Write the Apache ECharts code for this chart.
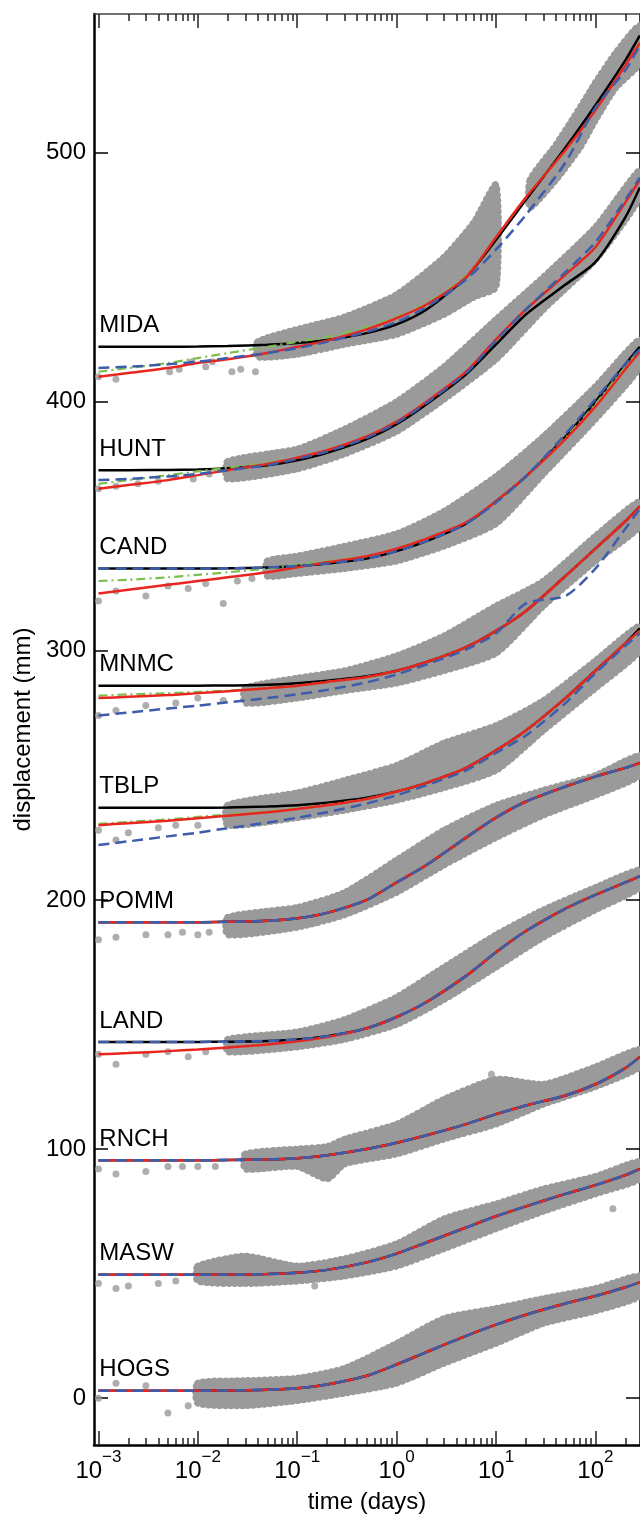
<!DOCTYPE html>
<html><head><meta charset="utf-8">
<script src="https://cdn.jsdelivr.net/npm/echarts@6/dist/echarts.min.js"></script>
<style>html,body{margin:0;padding:0;background:#fff}#c{width:640px;height:1519px}</style>
</head><body><div id="c"></div><script>
// ---------- data ----------
const stations = ['MIDA','HUNT','CAND','MNMC','TBLP','POMM','LAND','RNCH','MASW','HOGS'];
const T = [0.001,0.002,0.005,0.01,0.02,0.05,0.1,0.2,0.5,1,2,5,10,20,50,100,200,280];
const majorTicks = [0.001, 0.01, 0.1, 1, 10, 100];
const minorTicks = [0.002,0.003,0.004,0.005,0.006,0.007,0.008,0.009,0.02,0.03,0.04,0.05,0.06,0.07,0.08,0.09,0.2,0.3,0.4,0.5,0.6,0.7,0.8,0.9,2,3,4,5,6,7,8,9,20,30,40,50,60,70,80,90,200];
const yTicks = [0, 100, 200, 300, 400, 500];

const POMMfit = [191,191,191,191,191.2,191.6,192.6,194.8,200,207,214,225,233,239.5,245.5,249.5,253,255];
const LANDfit = [143,143,143,143,143.1,143.4,144,145.3,148.5,153,159,169.5,179,187.5,196.5,202,207,209.5];
const RNCHfit = [95.5,95.5,95.5,95.5,95.6,95.8,96.3,97.5,100,102.5,105.5,110,114,117.5,121.5,126,132.5,137];
const MASWfit = [49.5,49.5,49.5,49.5,49.6,49.8,50.3,51.5,54.5,58,62.5,68.5,73,77,82,85.5,89.5,92];
const HOGSfit = [3,3,3,3,3.1,3.4,4,5.5,9,13.5,18.5,25,29.5,33.5,38,41,44.5,46.5];

const blackFits = [
  [422,422,422,422.1,422.3,422.8,423.5,424.7,427.5,431,437,450,465,481,502,519,537,547],
  [372.5,372.5,372.6,372.8,373.3,374.5,376.5,379.5,385,391,399,411,423,435,447,456,474,486],
  [333,333,333,333,333.1,333.4,334,335,337,340,344,351,360,370,386,400,415,422],
  [286,286,286,286,286.1,286.4,287,288,289.8,292,295.5,301.5,308,316,330,341,352,358],
  [237,237,237,237,237.1,237.5,238,239,241,243.5,247,253,260,268,281,292,303,309],
  POMMfit, LANDfit, RNCHfit, MASWfit, HOGSfit
];
const redFits = [
  [410,411.5,413.5,415.5,417,419.5,422,424.5,429,433.5,439,450,466,482,501,517,535,544],
  [365,366.5,368.5,370.5,372.5,375,377.5,380.5,386,392,400,412,425,437,451,462,480,489],
  [323,324.5,326.5,328,329.5,331.5,333.5,335.5,338,341,345,351.5,360,370,385,398,413,420],
  [281,281.5,282.2,283,283.8,285,286,287.5,289.5,292,295.5,301.5,308,316,330,341,352,358],
  [230,230.8,231.8,232.8,233.8,235.2,236.5,238,240.5,243.5,247,253,260,268,281,292,303,308],
  POMMfit,
  [138,138.5,139.3,140,140.8,142,143.3,145,148.5,153,159,169.5,179,187.5,196.5,202,207,209.5],
  RNCHfit, MASWfit, HOGSfit
];
const blueFits = [
  [413.5,414,415,416,417.5,419.5,421.5,424,428,432,438,449,461,475,496,518,533,543],
  [368.5,369,370,371,372.5,374.5,377,380,385.5,391.5,399.5,411.5,424.5,437,452,464,481,490],
  [333,333,333,333,333.1,333.4,334,335,337,340,344,351,359.5,370,387,401,415,421],
  [274,275.2,276.8,278,279.3,281,282.5,284.3,287.3,290.5,294.5,300.5,307,319,322,333,349,357],
  [222,223.5,225.5,227,228.8,231,233,235.2,238.7,242,246,252,259,266,279,291,302,307],
  POMMfit, LANDfit, RNCHfit, MASWfit, HOGSfit
];
const greenFits = [
  [412,413.5,415.5,417.5,419.5,422,424,426,430,434,439.5,450.5,466,482,501,517,535,544],
  [367,368.5,370.5,372,373.5,375.5,377.5,380.5,386,392,400,412,425,437,451,462,480,489],
  [328,328.5,329.5,330.5,331.5,333,334.5,336,338,341,345,351.5,360,370,385.5,399,414,421],
  [282,282.5,283,283.5,284,285,286,287.5,289.5,292,295.5,301.5,308,316,330,341,352,357],
  [230.5,231.3,232.3,233.3,234.3,235.6,236.8,238.2,240.6,243.5,247,253,260,268,281,292,303,308],
  null, null, null, null, null
];
// observed scatter clouds: [time, lower, upper] per segment
const cloudMIDA = [[[0.04,418,424],[0.1,419,429],[0.3,423,434],[1,427,443],[3,435,458],[6,442,472],[10,446,487]],
                   [[22,478,489],[40,489,503],[70,502,518],[100,513,528],[160,526,540],[280,536,551]]];
const cloudHUNT = [[[0.02,369,376],[0.1,373,381],[0.3,379,389],[1,388,400],[3,401,414],[10,417,433],[30,437,450],[100,457,470],[280,482,493]]];
const cloudCAND = [[[0.05,330,336],[0.1,331,338],[0.3,333,342],[1,336,347],[3,342,356],[10,351,370],[30,371,386],[100,393,406],[280,414,425]]];
const cloudMNMC = [[[0.03,279,285],[0.1,281,289],[0.3,284,292],[1,287,298],[3,292,306],[10,299,318],[30,318,328],[100,336,346],[280,350,360]]];
const cloudTBLP = [[[0.02,230,238],[0.1,233,243],[0.3,236,248],[1,240,254],[3,245,263],[10,252,270],[30,268,280],[100,285,296],[280,300,310]]];
const cloudPOMM = [[[0.02,186,193],[0.1,189,197],[0.3,194,203],[1,203,216],[3,214,228],[10,225,238],[30,234,244],[100,242,250],[280,250,258]]];
const cloudLAND = [[[0.02,139,144],[0.1,141,147],[0.3,144,152],[1,150,161],[3,160,173],[10,173,186],[30,185,196],[100,196,205],[280,205,212]]];
const cloudRNCH = [[[0.03,92,98],[0.1,93,100],[0.2,88,101],[0.3,94,104],[1,98,110],[3,104,120],[10,110,128],[30,118,126],[100,125,133],[280,133,140]]];
const cloudMASW = [[[0.01,47,53],[0.03,46,57],[0.1,47,53],[0.3,49,56],[1,53,62],[3,60,72],[10,68,78],[30,75,84],[100,82,89],[280,88,95]]];
const cloudHOGS = [[[0.01,-2,6],[0.03,-3,7],[0.1,-1,8],[0.3,2,12],[1,6,22],[3,14,32],[10,22,36],[30,30,40],[100,35,44],[280,41,49]]];
const clouds = [cloudMIDA, cloudHUNT, cloudCAND, cloudMNMC, cloudTBLP, cloudPOMM, cloudLAND, cloudRNCH, cloudMASW, cloudHOGS];
// sparse individual observations
const dotsMIDA = [[0.001,410],[0.0015,409],[0.0052,412],[0.0065,413],[0.0087,416],[0.012,414],[0.014,416],[0.022,412],[0.027,413],[0.038,412],[10,486],[100,525]];
const dotsHUNT = [[0.001,365],[0.0015,366],[0.0025,367],[0.004,368],[0.006,370],[0.009,369],[0.013,371]];
const dotsCAND = [[0.001,320],[0.0015,324],[0.003,322],[0.005,326],[0.008,325],[0.012,327],[0.018,319],[0.025,328],[0.035,329]];
const dotsMNMC = [[0.001,274],[0.0015,276],[0.003,278],[0.006,279],[0.01,281],[0.018,280]];
const dotsTBLP = [[0.001,228],[0.0015,224],[0.002,227],[0.004,229],[0.006,230],[0.01,230]];
const dotsPOMM = [[0.001,184],[0.0015,185],[0.003,186],[0.005,186],[0.007,187],[0.01,186],[0.013,187]];
const dotsLAND = [[0.001,138],[0.0015,134],[0.003,138],[0.005,139],[0.008,137],[0.012,139]];
const dotsRNCH = [[0.001,92],[0.0015,90],[0.003,91],[0.005,93],[0.007,93],[0.01,93],[0.015,93],[9,130]];
const dotsMASW = [[0.001,46],[0.0015,44],[0.002,45],[0.004,46],[0.006,47],[0.15,45],[150,76]];
const dotsHOGS = [[0.001,0],[0.0015,6],[0.003,5],[0.005,-6],[0.008,-3],[0.01,2]];
const dots = [dotsMIDA, dotsHUNT, dotsCAND, dotsMNMC, dotsTBLP, dotsPOMM, dotsLAND, dotsRNCH, dotsMASW, dotsHOGS];

// ---------- chart ----------
const FONT = 'Liberation Sans, Arial, Helvetica, sans-serif';
const XMIN = 0.000902, XMAX = 281, YMIN = -18.8, YMAX = 555.6;
const GRAY = '#9a9a9a', RED = '#e8261f', BLUE = '#3d5dab', GREEN = '#7dbf4e';

function xAxisDef(pos, ticks, len, showLine, showLabel) {
  return {
    type: 'log', logBase: 10, min: XMIN, max: XMAX, position: pos,
    axisLine: { show: showLine, onZero: false, lineStyle: { color: pos === 'top' ? '#444' : '#000', width: pos === 'top' ? 1.5 : 2.5 } },
    axisTick: { show: true, inside: true, length: len, customValues: ticks, lineStyle: { color: '#222', width: 1.5 } },
    axisLabel: showLabel ? {
      show: true, customValues: ticks, margin: 4, color: '#000', fontFamily: FONT,
      formatter: v => { const e = Math.round(Math.log10(v)); return '{b|10}{s|' + (e < 0 ? '\u2212' : '') + Math.abs(e) + '}'; },
      rich: { b: { fontSize: 24, lineHeight: 44, fontFamily: FONT, color: '#000' },
              s: { fontSize: 17, lineHeight: 17, verticalAlign: 'top', fontFamily: FONT, color: '#000' } }
    } : { show: false },
    splitLine: { show: false }, minorTick: { show: false },
    name: showLabel ? 'time (days)' : '', nameLocation: 'middle', nameGap: 57,
    nameTextStyle: { fontSize: 24, fontFamily: FONT, color: '#000', verticalAlign: 'middle' }
  };
}

const series = [];
stations.forEach((name, i) => {
  const segs = clouds[i];
  series.push({
    type: 'custom', xAxisIndex: 0, yAxisIndex: 0, silent: true, z: 1,
    data: [[T[0], 0]],
    renderItem: (params, api) => ({
      type: 'group',
      children: segs.map(seg => {
        const up = seg.map(p => api.coord([p[0], p[2]]));
        const lo = seg.slice().reverse().map(p => api.coord([p[0], p[1]]));
        return { type: 'polygon', shape: { points: up.concat(lo), smooth: 0.2 },
                 style: { fill: GRAY, stroke: GRAY, lineWidth: 7, lineCap: 'round', lineJoin: 'round', lineDash: [0.1, 5.5] } };
      })
    })
  });
  series.push({ type: 'scatter', xAxisIndex: 0, yAxisIndex: 0, z: 2, symbolSize: 7, silent: true,
    itemStyle: { color: GRAY }, data: dots[i] });
  const mk = (arr, color, type, z, w) => ({
    type: 'line', xAxisIndex: 0, yAxisIndex: 0, z, symbol: 'none', smooth: 0.25, silent: true,
    lineStyle: { color, width: w, type }, data: T.map((t, j) => [t, arr[j]])
  });
  series.push(mk(blackFits[i], '#000', 'solid', 3, 2.5));
  if (greenFits[i]) series.push(mk(greenFits[i], GREEN, [9, 4, 2, 4], 4, 2.2));
  series.push(mk(redFits[i], RED, 'solid', 5, 2.5));
  series.push(mk(blueFits[i], BLUE, [11, 6], 6, 2.5));
  series.push({
    type: 'custom', xAxisIndex: 0, yAxisIndex: 0, silent: true, z: 10,
    data: [[0.00102, blackFits[i][0]]],
    renderItem: (params, api) => {
      const p = api.coord([api.value(0), api.value(1)]);
      return { type: 'text', x: p[0], y: p[1] - 9,
               style: { text: name, fontSize: 24, fontFamily: FONT, fill: '#000', align: 'left', verticalAlign: 'bottom' } };
    }
  });
});

const chart = echarts.init(document.getElementById('c'), null, { renderer: 'canvas' });
chart.setOption({
  animation: false,
  backgroundColor: '#fff',
  grid: { left: 94, top: 14, right: -1, bottom: 69, containLabel: false },
  xAxis: [
    xAxisDef('bottom', majorTicks, 14, true, true),
    xAxisDef('bottom', minorTicks, 7, false, false),
    xAxisDef('top', majorTicks, 14, true, false),
    xAxisDef('top', minorTicks, 7, false, false)
  ],
  yAxis: [
    { type: 'value', min: YMIN, max: YMAX, position: 'left',
      axisLine: { show: true, onZero: false, lineStyle: { color: '#000', width: 2.5 } },
      axisTick: { show: true, inside: true, length: 14, customValues: yTicks, lineStyle: { color: '#000', width: 1.5 } },
      axisLabel: { show: true, customValues: yTicks, margin: 8, fontSize: 24, fontFamily: FONT, color: '#000' },
      splitLine: { show: false },
      name: 'displacement (mm)', nameLocation: 'middle', nameGap: 71, nameRotate: 90,
      nameTextStyle: { fontSize: 24, fontFamily: FONT, color: '#000', verticalAlign: 'middle' } },
    { type: 'value', min: YMIN, max: YMAX, position: 'right',
      axisLine: { show: true, onZero: false, lineStyle: { color: '#000', width: 2.5 } },
      axisTick: { show: true, inside: true, length: 14, customValues: yTicks, lineStyle: { color: '#000', width: 1.5 } },
      axisLabel: { show: false }, splitLine: { show: false } }
  ],
  series
});
</script></body></html>
